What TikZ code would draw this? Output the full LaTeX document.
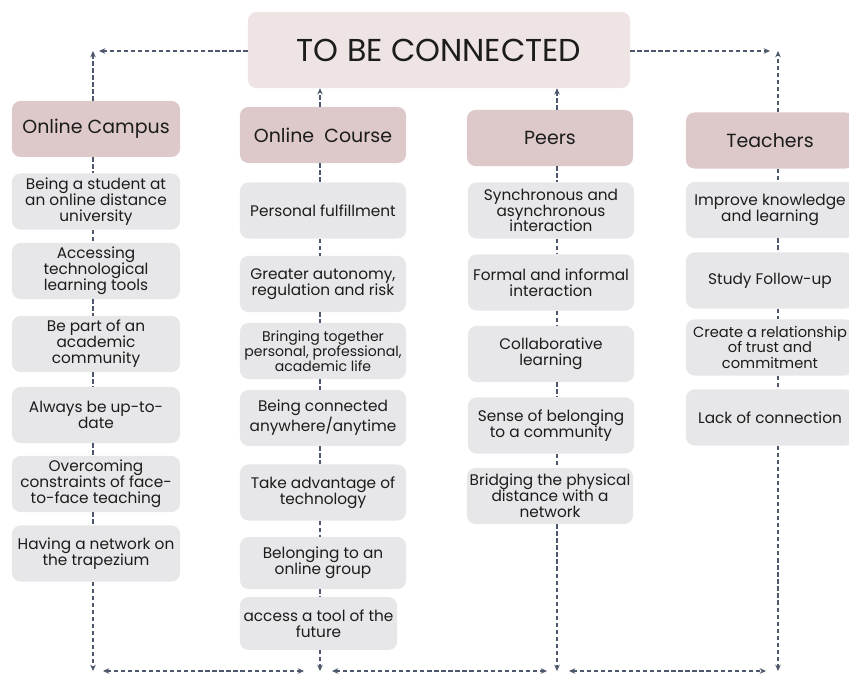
\documentclass[tikz,border=0pt]{standalone}
\usepackage{fontspec}
\setmainfont{Poppins}
\usetikzlibrary{arrows.meta}

\definecolor{titlepink}{HTML}{EEE4E3}
\definecolor{headpink}{HTML}{DDC9C9}
\definecolor{itemgray}{HTML}{E7E7E9}
\definecolor{linkgray}{HTML}{4E586C}
\definecolor{ink}{HTML}{1C1C1C}

\tikzset{
  box/.style={rounded corners=6pt, align=center, text=ink, inner sep=1pt},
  title/.style={box, fill=titlepink, minimum width=9.55cm, minimum height=1.9cm,
    font=\fontsize{22.5}{26}\selectfont},
  head/.style={box, fill=headpink, minimum width=4.15cm, minimum height=1.4cm,
    font=\fontsize{13.5}{16}\selectfont},
  item/.style={box, fill=itemgray, minimum width=4.15cm, minimum height=1.4cm,
    font=\fontsize{10.9}{11.3}\selectfont},
  link/.style={draw=linkgray, line width=0.9pt, dash pattern=on 3pt off 2pt},
  >={Stealth[length=4.5pt,width=4pt]}
}

\begin{document}
\begin{tikzpicture}[x=0.025cm,y=-0.025cm]
\useasboundingbox (0,0) rectangle (849,675);

\node[title] (top) at (439,50) {TO BE CONNECTED};

% column lines
\coordinate (xa) at (93,0);
\coordinate (xb) at (320,0);
\coordinate (xc) at (557,0);
\coordinate (xd) at (778,0);

% heads
\node[head, minimum width=4.2cm] (campus) at (96,129) {Online Campus};
\node[head] (course) at (323,135) {Online~ Course};
\node[head] (peers) at (550,138) {Peers};
\node[head, minimum width=4.2cm] (teachers) at (770,140.5) {Teachers};

% Online Campus
\node[item, minimum width=4.2cm] (c1) at (96,201.5) {Being a student at\\an online distance\\university};
\node[item, minimum width=4.2cm] (c2) at (96,271) {Accessing\\technological\\learning tools};
\node[item, minimum width=4.2cm] (c3) at (96,344) {Be part of an\\academic\\community};
\node[item, minimum width=4.2cm] (c4) at (96,415) {Always be up-to-\\date};
\node[item, minimum width=4.2cm] (c5) at (96,484) {Overcoming\\constraints of face-\\to-face teaching};
\node[item, minimum width=4.2cm] (c6) at (96,553.5) {Having a network on\\the trapezium};

% Online Course
\node[item] (o1) at (323,210.5) {Personal fulfillment};
\node[item] (o2) at (323,284) {Greater autonomy,\\regulation and risk};
\node[item, font=\fontsize{10}{10.6}\selectfont] (o3) at (323,351) {Bringing together\\personal, professional,\\academic life};
\node[item] (o4) at (323,418) {Being connected\\anywhere/anytime};
\node[item] (o5) at (323,492.5) {Take advantage of\\technology};
\node[item, minimum height=1.3cm] (o6) at (323,563) {Belonging to an\\online group};
\node[item, minimum width=3.93cm, minimum height=1.32cm] (o7) at (318.5,623.5) {access a tool of the\\future};

% Peers
\node[item] (p1) at (551,210.5) {Synchronous and\\asynchronous\\interaction};
\node[item] (p2) at (551,282.5) {Formal and informal\\interaction};
\node[item] (p3) at (551,354) {Collaborative\\learning};
\node[item] (p4) at (551,425.5) {Sense of belonging\\to a community};
\node[item] (p5) at (550,496) {Bridging the physical\\distance with a\\network};

% Teachers
\node[item, minimum width=4.2cm] (t1) at (770,210) {Improve knowledge\\and learning};
\node[item, minimum width=4.2cm] (t2) at (770,280.5) {Study Follow-up};
\node[item, minimum width=4.2cm, font=\fontsize{10.4}{11.3}\selectfont] (t3) at (770,347.5) {Create a relationship\\of trust and\\commitment};
\node[item, minimum width=4.2cm] (t4) at (770,417.5) {Lack of connection};

% links inside the columns
\foreach \a/\b/\x in {campus/c1/xa, c1/c2/xa, c2/c3/xa, c3/c4/xa, c4/c5/xa, c5/c6/xa,
    course/o1/xb, o1/o2/xb, o2/o3/xb, o3/o4/xb, o4/o5/xb, o5/o6/xb, o6/o7/xb,
    peers/p1/xc, p1/p2/xc, p2/p3/xc, p3/p4/xc, p4/p5/xc,
    teachers/t1/xd, t1/t2/xd, t2/t3/xd, t3/t4/xd}
  \draw[link] (\a.south -| \x) -- (\b.north -| \x);

% up to the title
\coordinate (tl) at (93,51);
\coordinate (tr) at (778,51);
\draw[link,->] (campus.north -| xa) -- (tl);
\draw[link,->] (top.west |- tl) -- ([xshift=0.15cm]tl);
\draw[link,->] (teachers.north -| xd) -- (tr);
\draw[link,->] (top.east |- tr) -- ([xshift=-0.2cm]tr);
\draw[link,->] (course.north -| xb) -- (top.south -| xb);
\draw[link,->] (peers.north -| xc) -- (top.south -| xc);

% bottom
\coordinate (ba) at (93,671);
\coordinate (bb) at (320,671);
\coordinate (bc) at (557,671);
\coordinate (bd) at (778,671);
\draw[link,->] (c6.south -| xa) -- (ba);
\draw[link,->] (o7.south -| xb) -- (bb);
\draw[link,->] (p5.south -| xc) -- (bc);
\draw[link,->] (t4.south -| xd) -- (bd);
\draw[link,<->] ([xshift=0.25cm]ba) -- ([xshift=-0.4cm]bb);
\draw[link,<->] ([xshift=0.3cm]bb) -- ([xshift=-0.25cm]bc);
\draw[link,<->] ([xshift=0.3cm]bc) -- ([xshift=-0.3cm]bd);
\end{tikzpicture}
\end{document}
